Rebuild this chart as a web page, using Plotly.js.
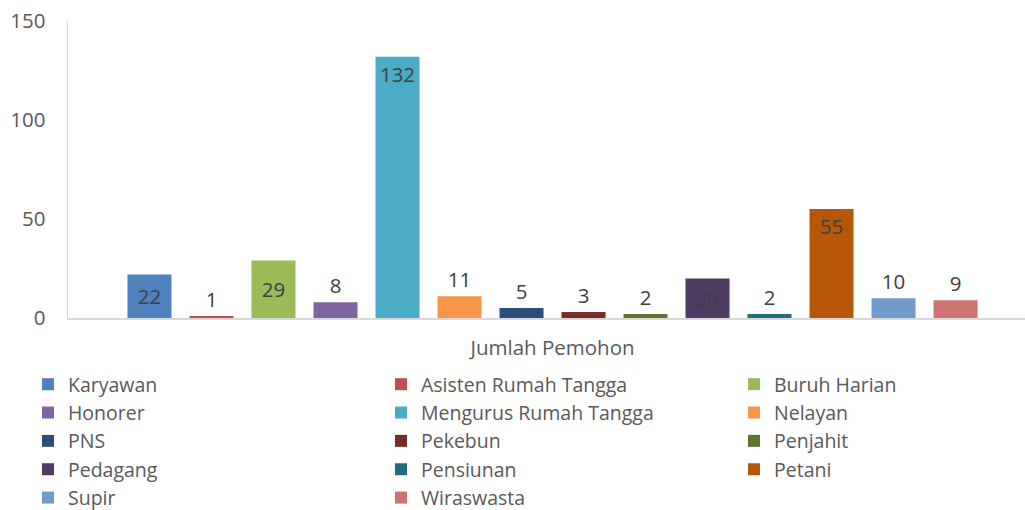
<!DOCTYPE html>
<html>
<head>
<meta charset="utf-8">
<script src="https://cdn.plot.ly/plotly-3.0.1.min.js"></script>
<style>html,body{margin:0;padding:0;background:#fff;overflow:hidden}</style>
</head>
<body>
<div id="chart" style="width:1025px;height:510px"></div>
<script>
const category = ["Jumlah Pemohon"];
const seriesNames = ["Karyawan", "Asisten Rumah Tangga", "Buruh Harian", "Honorer", "Mengurus Rumah Tangga", "Nelayan", "PNS", "Pekebun", "Penjahit", "Pedagang", "Pensiunan", "Petani", "Supir", "Wiraswasta"];
const seriesValues = [22, 1, 29, 8, 132, 11, 5, 3, 2, 20, 2, 55, 10, 9];
const seriesColors = ["#4F81BD", "#C0504D", "#9BBB59", "#8064A2", "#4BACC6", "#F79646", "#2C4D75", "#772C2A", "#5F7530", "#4D3B62", "#276A7C", "#B65708", "#729ACA", "#CD7371"];
const yTicks = [0, 50, 100, 150];

const FONT = "'Open Sans', 'Liberation Sans', sans-serif";
const FS = 20.5;
const LFS = 19.5;
const legendIds = ["legend", "legend2", "legend3"];

const traces = seriesNames.map((name, i) => {
  const v = seriesValues[i];
  let pos = "outside", anchor = "middle";
  if (v >= 50) { pos = "inside"; anchor = "end"; }
  else if (v >= 20) { pos = "inside"; anchor = "middle"; }
  return {
    type: "bar",
    name: name,
    x: category,
    y: [v],
    text: [String(v)],
    textposition: pos,
    insidetextanchor: anchor,
    textfont: {family: FONT, size: FS, color: "#404040"},
    constraintext: "none",
    cliponaxis: false,
    marker: {color: seriesColors[i]},
    legend: legendIds[i % 3],
    hoverinfo: "skip"
  };
});

const legendBase = {
  orientation: "v",
  xref: "container",
  yref: "container",
  xanchor: "left",
  yanchor: "top",
  y: 0.2843,
  bgcolor: "rgba(0,0,0,0)",
  font: {family: FONT, size: LFS, color: "#595959"},
  tracegroupgap: 0
};

const layout = {
  width: 1025,
  height: 510,
  margin: {l: 68, r: 0, t: 21, b: 192, pad: 0, autoexpand: false},
  paper_bgcolor: "#ffffff",
  plot_bgcolor: "#ffffff",
  barmode: "group",
  bargap: 0.1042,
  bargroupgap: 0.29,
  showlegend: true,
  font: {family: FONT, color: "#595959"},
  xaxis: {
    type: "category",
    range: [-0.5, 0.4876],
    showgrid: false,
    showline: true,
    linecolor: "#d9d9d9",
    linewidth: 1.5,
    ticks: "",
    ticklabelstandoff: 11,
    tickfont: {family: FONT, size: FS, color: "#595959"},
    fixedrange: true
  },
  yaxis: {
    range: [0, 150],
    tickvals: yTicks,
    ticktext: yTicks.map(String),
    showgrid: false,
    zeroline: false,
    showline: true,
    linecolor: "#d9d9d9",
    linewidth: 1.5,
    ticks: "",
    ticklabelstandoff: 17,
    tickfont: {family: FONT, size: FS, color: "#595959"},
    fixedrange: true
  },
  legend: Object.assign({}, legendBase, {x: 0.0273}),
  legend2: Object.assign({}, legendBase, {x: 0.3717}),
  legend3: Object.assign({}, legendBase, {x: 0.7161})
};

Plotly.newPlot("chart", traces, layout, {displayModeBar: false, staticPlot: true});
</script>
</body>
</html>
